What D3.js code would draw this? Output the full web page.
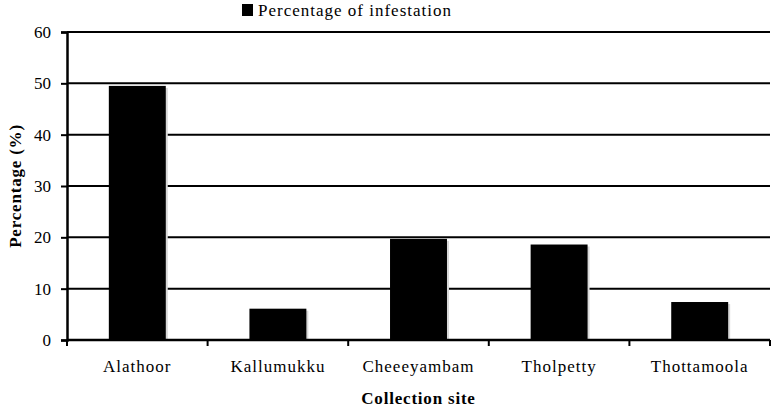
<!DOCTYPE html>
<html>
<head>
<meta charset="utf-8">
<script src="https://cdn.jsdelivr.net/npm/d3@7"></script>
<style>
  body { margin: 0; background: #fff; }
</style>
</head>
<body>
<div id="chart"></div>
<script>
// values
const sites = ['Alathoor', 'Kallumukku', 'Cheeeyambam', 'Tholpetty', 'Thottamoola'];
const infestation = [49.5, 6.1, 19.7, 18.6, 7.4];
const yTicks = [0, 10, 20, 30, 40, 50, 60];
const seriesName = 'Percentage of infestation';

const FONT = 'Liberation Serif';
const width = 774;
const height = 408;
const margin = { top: 32, right: 4, bottom: 68, left: 67 };

const svg = d3
  .select('#chart')
  .append('svg')
  .attr('width', width)
  .attr('height', height)
  .attr('font-family', FONT);

const x = d3
  .scaleBand()
  .domain(sites)
  .range([margin.left, width - margin.right])
  .paddingInner(0.595)
  .paddingOuter(0.2975);

const y = d3
  .scaleLinear()
  .domain([0, 60])
  .range([height - margin.bottom, margin.top]);

// gridlines
svg
  .append('g')
  .selectAll('line')
  .data(yTicks.slice(1))
  .enter()
  .append('line')
  .attr('x1', margin.left)
  .attr('x2', width - margin.right)
  .attr('y1', d => y(d))
  .attr('y2', d => y(d))
  .attr('stroke', '#000')
  .attr('stroke-width', 2);

// light shadow behind bars
svg
  .append('g')
  .selectAll('rect')
  .data(infestation)
  .enter()
  .append('rect')
  .attr('x', (d, i) => x(sites[i]) + 2)
  .attr('y', d => y(d) + 2)
  .attr('width', x.bandwidth())
  .attr('height', d => y(0) - y(d) - 2)
  .attr('fill', '#d8d8d8');

svg
  .append('g')
  .selectAll('rect')
  .data(infestation)
  .enter()
  .append('rect')
  .attr('x', (d, i) => x(sites[i]))
  .attr('y', d => y(d))
  .attr('width', x.bandwidth())
  .attr('height', d => y(0) - y(d))
  .attr('fill', '#000');

// y axis
const yAxis = svg
  .append('g')
  .attr('transform', `translate(${margin.left},0)`)
  .call(d3.axisLeft(y).tickValues(yTicks).tickSize(6).tickPadding(10))
  .attr('font-family', FONT)
  .attr('font-size', 17);
yAxis.select('.domain').attr('stroke-width', 2.5);
yAxis.selectAll('.tick line').attr('stroke-width', 2);
yAxis.selectAll('.tick text').attr('font-family', FONT).attr('font-size', 17);

// x axis: ticks sit at band boundaries
const bounds = sites.map(s => x(s) - x.step() * x.paddingInner() / 2);
bounds[0] = margin.left;
bounds.push(width - margin.right);
const xAxisG = svg.append('g').attr('transform', `translate(0,${y(0)})`);
xAxisG
  .append('line')
  .attr('x1', margin.left)
  .attr('x2', width - margin.right)
  .attr('stroke', '#000')
  .attr('stroke-width', 2.5);
xAxisG
  .selectAll('.tk')
  .data(bounds)
  .enter()
  .append('line')
  .attr('x1', d => d)
  .attr('x2', d => d)
  .attr('y1', 0)
  .attr('y2', 6)
  .attr('stroke', '#000')
  .attr('stroke-width', 2);
xAxisG
  .selectAll('text')
  .data(sites)
  .enter()
  .append('text')
  .attr('x', d => x(d) + x.bandwidth() / 2)
  .attr('y', 32)
  .attr('text-anchor', 'middle')
  .attr('font-family', FONT)
  .attr('font-size', 17)
  .attr('letter-spacing', '1px')
  .text(d => d);

// axis titles
svg
  .append('text')
  .attr('x', (margin.left + width - margin.right) / 2)
  .attr('y', 404)
  .attr('text-anchor', 'middle')
  .attr('font-family', FONT)
  .attr('font-size', 17)
  .attr('font-weight', 'bold')
  .attr('letter-spacing', '0.8px')
  .text('Collection site');

svg
  .append('text')
  .attr('transform', `translate(21,${(margin.top + y(0)) / 2}) rotate(-90)`)
  .attr('text-anchor', 'middle')
  .attr('font-family', FONT)
  .attr('font-size', 17)
  .attr('font-weight', 'bold')
  .attr('letter-spacing', '0.8px')
  .text('Percentage (%)');

// legend
const legend = svg.append('g').attr('transform', 'translate(242,4)');
legend.append('rect').attr('width', 11).attr('height', 12).attr('fill', '#000');
legend
  .append('text')
  .attr('x', 16)
  .attr('y', 12)
  .attr('font-family', FONT)
  .attr('font-size', 17)
  .attr('letter-spacing', '1px')
  .text(seriesName);
</script>
</body>
</html>
